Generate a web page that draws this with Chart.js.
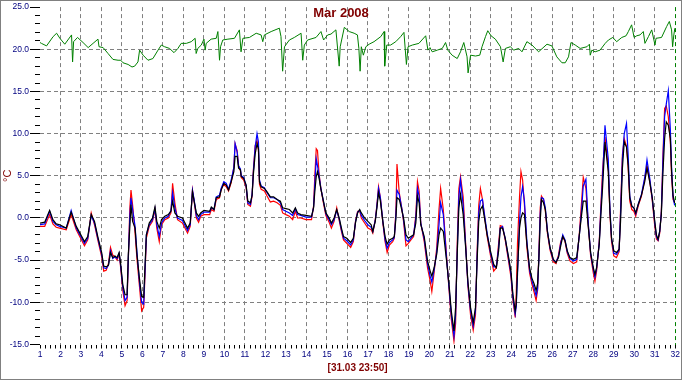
<!DOCTYPE html>
<html>
<head>
<meta charset="utf-8">
<script src="https://cdn.jsdelivr.net/npm/chart.js@4.4.1/dist/chart.umd.min.js"></script>
<style>
  html, body { margin: 0; padding: 0; background: #fff; }
  #frame { width: 682px; height: 380px; box-sizing: border-box; border: 1px solid #808080; background: #fff; }
  canvas { display: block; }
</style>
</head>
<body>
<div id="frame"><canvas id="chart" width="680" height="378"></canvas></div>
<script>
'use strict';

const monthTitle = 'Mar 2008';
const lastReading = '[31.03 23:50]';
const unitLabel = '°C';
const firstDay = 1;
const lastDay = 32;
const tempMin = -15;
const tempMax = 25;

// outside sensors: time in days of the month, one line per day group
const outsideTime = [
  1.00, 1.23, 1.47, 1.63, 1.79, 1.96, 2.28, 2.52, 2.77,
  3.17, 3.33, 3.50, 3.66, 3.82, 4.01, 4.11, 4.23, 4.34, 4.44, 4.55, 4.66, 4.76, 4.86, 4.92,
  5.04, 5.15, 5.25, 5.31, 5.38, 5.44, 5.52, 5.64, 5.73, 5.85, 5.96,
  6.06, 6.12, 6.19, 6.33, 6.49, 6.61, 6.70, 6.82, 6.93, 7.09, 7.26, 7.39, 7.47, 7.58, 7.71, 7.95,
  8.20, 8.33, 8.44, 8.52, 8.63, 8.74, 8.84, 9.00, 9.28, 9.36, 9.49, 9.60, 9.76, 9.84, 9.97,
  10.09, 10.20, 10.33, 10.46, 10.52, 10.62, 10.69, 10.78, 10.82, 10.94,
  11.06, 11.14, 11.27, 11.35, 11.41, 11.50, 11.59, 11.66, 11.71, 11.79, 11.95,
  12.08, 12.24, 12.40, 12.57, 12.73, 12.84, 13.00, 13.17, 13.33, 13.46, 13.57, 13.73, 13.98,
  14.25, 14.35, 14.41, 14.48, 14.54, 14.62, 14.70, 14.83, 14.95,
  15.11, 15.22, 15.35, 15.48, 15.60, 15.71, 15.81, 15.97, 16.16, 16.29, 16.40, 16.50, 16.60, 16.68, 16.84,
  17.00, 17.16, 17.24, 17.36, 17.44, 17.52, 17.61, 17.73, 17.84, 17.94,
  18.05, 18.21, 18.29, 18.37, 18.42, 18.53, 18.65, 18.74, 18.86, 18.97,
  19.10, 19.23, 19.34, 19.42, 19.50, 19.58, 19.75, 19.91,
  20.04, 20.12, 20.23, 20.36, 20.47, 20.55, 20.68, 20.84, 20.96,
  21.07, 21.20, 21.28, 21.36, 21.44, 21.52, 21.65, 21.77, 21.88,
  22.01, 22.14, 22.25, 22.33, 22.41, 22.49, 22.59, 22.69, 22.82, 22.98,
  23.14, 23.27, 23.38, 23.46, 23.57, 23.70, 23.87, 23.98,
  24.08, 24.19, 24.24, 24.30, 24.40, 24.47, 24.55, 24.64, 24.76, 24.89,
  25.00, 25.11, 25.21, 25.28, 25.34, 25.41, 25.47, 25.57, 25.66, 25.76, 25.89,
  26.05, 26.18, 26.30, 26.41, 26.51, 26.62, 26.73, 26.86,
  27.03, 27.19, 27.32, 27.43, 27.51, 27.64, 27.76, 27.87,
  28.00, 28.08, 28.16, 28.29, 28.37, 28.45, 28.57, 28.73, 28.81, 28.89,
  29.00, 29.13, 29.26, 29.33, 29.42, 29.51, 29.62, 29.70, 29.78, 29.88, 29.98,
  30.07, 30.19, 30.35, 30.51, 30.62, 30.75, 30.88,
  31.00, 31.08, 31.16, 31.24, 31.32, 31.40, 31.48, 31.56, 31.66, 31.76, 31.82, 31.89, 31.97
];

const blackTemp = [
  -0.6, -0.5, 0.9, -0.2, -0.7, -0.8, -1.2, 0.7, -1.0,
  -2.8, -2.2, 0.4, -0.4, -2.2, -4.1, -5.7, -5.8, -5.6, -4.1, -4.7, -4.5, -4.7, -4.1, -5.1,
  -7.9, -9.1, -9.1, -4.3, -1.2, 1.6, -0.4, -1.2, -4.3, -7.1, -9.3,
  -9.4, -5.9, -2.0, -0.6, 0.0, 1.3, -0.4, -1.2, -0.2, 0.2, 0.4, 0.8, 2.0, 0.6, 0.2, 0.0,
  -1.2, -0.6, 3.1, 2.0, 0.6, 0.2, 0.6, 0.9, 0.8, 1.3, 1.0, 2.4, 2.5, 3.3, 4.1,
  3.9, 3.3, 4.3, 5.5, 7.3, 7.3, 5.9, 5.7, 4.9, 4.7,
  3.9, 2.0, 1.8, 2.7, 5.1, 7.6, 8.8, 8.2, 4.3, 3.7, 3.5,
  3.1, 2.5, 2.5, 2.2, 2.0, 1.2, 1.1, 1.0, 0.6, 1.2, 0.6, 0.4, 0.3,
  0.2, 1.2, 3.1, 4.9, 5.5, 4.7, 3.5, 2.0, 0.6,
  0.0, -0.6, 0.0, 1.0, 0.0, -1.2, -2.2, -2.4, -2.9, -2.4, -0.5, 0.6, 1.0, 0.6, 0.0,
  -0.4, -0.8, -1.6, -0.4, 1.2, 3.0, 2.0, -0.4, -2.2, -3.1,
  -2.6, -2.4, -2.2, 0.0, 2.4, 2.2, 1.0, 0.0, -2.0, -2.4,
  -2.2, -2.0, -0.6, 2.6, 1.8, -0.8, -2.2, -5.1,
  -6.3, -6.9, -5.9, -4.3, -2.0, -1.2, -1.6, -5.1, -7.9,
  -11.0, -13.4, -10.6, -4.3, 1.2, 2.8, 0.4, -3.5, -7.5,
  -10.6, -12.4, -10.6, -5.1, -0.4, 1.0, 1.4, 0.0, -2.0, -3.9,
  -5.5, -5.9, -3.9, -1.2, -1.2, -2.4, -4.7, -6.3,
  -9.1, -11.0, -10.2, -6.3, -1.2, 0.0, 0.6, 0.4, -3.1, -5.9,
  -7.1, -7.8, -8.6, -7.8, -5.1, -0.4, 2.2, 1.8, 1.0, -1.6, -3.5,
  -4.9, -5.3, -4.7, -3.3, -2.2, -2.7, -3.9, -4.7,
  -4.9, -4.7, -2.0, 0.4, 2.0, 2.0, -1.2, -4.1,
  -5.9, -6.7, -5.9, -3.1, 0.4, 3.5, 9.0, 5.5, 0.8, -2.4,
  -3.9, -4.1, -3.7, -0.4, 5.9, 9.0, 8.4, 6.3, 2.4, 1.4, 1.2,
  0.6, 1.6, 2.7, 4.3, 5.9, 4.3, 2.4,
  -0.4, -2.0, -2.5, -1.6, 0.4, 5.5, 9.4, 11.4, 11.0, 9.4, 5.5, 2.7, 1.8
];

const redTemp = [
  -1.0, -1.0, 0.4, -0.7, -1.1, -1.2, -1.4, 0.4, -1.4,
  -3.3, -2.6, 0.6, -0.8, -2.6, -4.6, -6.3, -6.2, -5.4, -3.5, -4.4, -4.6, -5.0, -4.3, -5.5,
  -8.6, -10.4, -9.8, -5.0, 1.0, 3.3, 1.5, -1.8, -4.8, -8.0, -11.0,
  -10.6, -7.0, -2.4, -1.0, -0.4, 1.0, -1.2, -2.8, -0.8, -0.2, 0.0, 0.6, 4.1, 1.8, -0.2, -0.6,
  -1.8, -1.0, 3.3, 2.0, 0.0, -0.5, 0.2, 0.4, 0.4, 1.0, 0.8, 2.2, 2.4, 3.4, 4.0,
  3.7, 3.2, 4.2, 6.0, 8.8, 8.0, 6.2, 5.6, 4.8, 4.5,
  3.6, 1.6, 1.4, 2.6, 5.6, 8.6, 9.2, 8.0, 4.0, 3.4, 3.2,
  2.6, 1.9, 2.0, 1.8, 1.5, 0.6, 0.4, 0.2, -0.2, 0.8, 0.0, 0.0, -0.2,
  -0.2, 1.4, 5.0, 8.2, 8.0, 5.2, 3.6, 1.8, 0.3,
  -0.5, -1.2, -0.4, 1.2, -0.3, -1.6, -2.6, -3.0, -3.5, -2.8, -0.3, 0.8, 0.8, 0.0, -0.6,
  -1.2, -1.4, -1.8, -0.2, 1.5, 3.7, 2.4, -0.6, -2.8, -4.1,
  -3.2, -2.8, -2.4, 1.0, 6.4, 3.0, 1.2, -0.4, -3.3, -3.0,
  -2.6, -2.2, 0.4, 4.3, 3.2, -0.6, -2.8, -5.9,
  -7.5, -8.7, -6.5, -3.5, 1.0, 3.5, 1.0, -4.5, -8.5,
  -12.0, -14.6, -12.5, -3.0, 3.5, 4.9, 2.5, -3.0, -8.0,
  -11.5, -13.3, -11.5, -4.0, 1.5, 3.5, 2.2, 0.2, -2.2, -4.4,
  -6.3, -5.9, -3.0, -0.9, -1.0, -2.6, -5.2, -7.0,
  -9.8, -11.8, -9.0, -3.0, 2.5, 5.5, 4.5, 1.5, -3.5, -6.5,
  -7.8, -8.8, -9.8, -8.6, -4.5, 1.2, 2.6, 2.2, 0.8, -1.8, -3.8,
  -5.2, -5.4, -4.4, -2.8, -2.2, -2.8, -4.2, -5.1,
  -5.4, -5.2, -1.8, 2.0, 4.8, 3.5, -1.0, -4.5,
  -6.5, -7.5, -6.3, -2.8, 1.5, 5.5, 9.6, 6.0, 0.5, -2.8,
  -4.5, -4.7, -4.0, 1.0, 7.5, 9.4, 8.5, 6.0, 2.0, 1.0, 0.8,
  0.2, 1.4, 2.6, 4.6, 6.2, 4.5, 2.0,
  -1.0, -2.5, -2.7, -1.8, 0.8, 7.5, 13.0, 13.3, 12.0, 9.0, 5.0, 2.2, 1.8
];

const blueTemp = [
  -0.8, -0.7, 0.8, -0.4, -0.8, -1.0, -1.2, 0.9, -1.2,
  -3.0, -2.4, 0.3, -0.6, -2.4, -4.3, -5.9, -6.0, -5.6, -3.9, -4.8, -4.6, -4.8, -4.2, -5.3,
  -8.2, -9.8, -9.4, -4.8, 0.0, 2.4, 1.0, -1.0, -4.0, -7.5, -10.0,
  -10.2, -6.5, -2.0, -0.8, -0.2, 1.1, -0.8, -2.2, -0.6, 0.0, 0.2, 0.9, 3.0, 1.2, 0.0, -0.3,
  -1.5, -0.8, 3.3, 2.2, 0.3, -0.2, 0.4, 0.7, 0.7, 1.2, 1.0, 2.5, 2.7, 3.5, 4.3,
  4.1, 3.4, 4.5, 6.0, 8.8, 7.8, 6.2, 5.8, 5.0, 4.8,
  3.8, 1.8, 1.6, 2.8, 5.4, 8.4, 10.0, 9.0, 4.5, 3.8, 3.6,
  3.0, 2.4, 2.4, 2.2, 1.8, 1.0, 0.8, 0.6, 0.3, 1.1, 0.4, 0.3, 0.1,
  0.1, 1.3, 4.0, 7.0, 6.2, 5.0, 3.6, 2.0, 0.5,
  -0.2, -0.8, -0.2, 0.9, -0.1, -1.4, -2.4, -2.7, -3.2, -2.6, -0.4, 0.7, 0.9, 0.3, -0.3,
  -0.8, -1.1, -1.6, -0.3, 1.4, 3.5, 2.4, -0.4, -2.6, -3.6,
  -2.9, -2.6, -2.3, 0.5, 3.3, 2.8, 1.2, -0.2, -2.6, -2.8,
  -2.4, -2.0, 0.0, 3.5, 2.6, -0.6, -2.5, -5.4,
  -6.9, -7.6, -6.2, -4.0, -0.8, 1.8, 0.4, -4.8, -8.2,
  -11.5, -14.0, -11.5, -4.0, 2.5, 4.5, 1.5, -3.3, -7.8,
  -11.0, -12.8, -11.0, -4.6, 0.6, 2.0, 2.2, 0.4, -1.8, -4.1,
  -5.8, -5.8, -3.5, -1.2, -1.0, -2.4, -4.9, -6.6,
  -9.5, -11.4, -10.5, -6.8, -0.5, 2.5, 3.7, 2.0, -2.8, -6.2,
  -7.4, -8.3, -9.2, -8.4, -5.0, 0.5, 2.4, 2.3, 1.2, -1.5, -3.6,
  -5.0, -5.2, -4.6, -3.0, -2.0, -2.6, -4.0, -4.8,
  -5.1, -4.9, -2.0, 1.0, 3.8, 4.6, -0.8, -4.2,
  -6.1, -7.0, -6.0, -3.0, 1.0, 4.5, 11.0, 7.0, 1.2, -2.4,
  -4.2, -4.3, -3.8, 0.5, 7.0, 10.0, 11.2, 7.5, 2.6, 1.4, 1.2,
  0.5, 1.6, 2.8, 4.8, 6.9, 4.8, 2.2,
  -0.6, -2.2, -2.6, -1.6, 0.6, 7.0, 12.0, 13.5, 15.1, 10.5, 6.0, 2.5, 1.5
];

// inside sensor (green)
const greenTime = [
  1.00, 1.07, 1.32, 1.64, 1.81, 1.97, 2.21, 2.54, 2.59, 2.64,
  2.83, 3.10, 3.35, 3.59, 3.83, 3.88, 4.08, 4.32, 4.56, 4.81,
  4.94, 5.05, 5.30, 5.49, 5.62, 5.78, 5.86, 6.03, 6.27, 6.51,
  6.76, 6.92, 7.08, 7.32, 7.54, 7.73, 7.89, 8.14, 8.38, 8.57,
  8.62, 8.70, 8.87, 9.00, 9.06, 9.11, 9.35, 9.60, 9.68, 9.76,
  9.81, 9.92, 10.17, 10.49, 10.73, 10.81, 10.90, 11.22, 11.55, 11.79,
  11.87, 11.95, 12.28, 12.68, 12.76, 12.84, 12.93, 13.17, 13.41, 13.74,
  13.82, 13.90, 14.06, 14.47, 14.71, 14.84, 15.04, 15.20, 15.44, 15.60,
  15.65, 15.85, 16.09, 16.33, 16.49, 16.56, 16.62, 16.68, 16.78, 16.90,
  17.06, 17.30, 17.63, 17.79, 17.82, 17.92, 18.11, 18.36, 18.60, 18.76,
  18.88, 18.96, 19.17, 19.49, 19.82, 19.93, 20.03, 20.14, 20.39, 20.63,
  20.79, 20.90, 21.11, 21.36, 21.52, 21.68, 21.84, 21.89, 22.01, 22.25,
  22.46, 22.57, 22.74, 22.85, 23.01, 23.22, 23.47, 23.60, 23.71, 23.95,
  24.12, 24.36, 24.52, 24.76, 25.01, 25.33, 25.74, 25.98, 26.22, 26.47,
  26.63, 26.79, 26.91, 27.12, 27.36, 27.69, 27.81, 27.85, 27.93, 28.09,
  28.33, 28.58, 28.74, 28.95, 29.14, 29.39, 29.60, 29.71, 29.87, 29.99,
  30.12, 30.28, 30.44, 30.52, 30.69, 30.85, 31.01, 31.06, 31.33, 31.58,
  31.71, 31.82, 31.87, 31.93, 31.98
];

const greenTemp = [
  20.8, 20.7, 20.4, 21.5, 21.9, 21.3, 20.6, 21.7, 18.5, 20.9,
  21.4, 20.8, 20.2, 20.7, 21.2, 20.3, 20.2, 19.5, 18.8, 18.7,
  18.7, 18.4, 18.2, 17.9, 18.0, 18.5, 19.9, 19.3, 18.7, 18.9,
  19.9, 20.5, 20.3, 20.1, 19.6, 20.1, 20.7, 20.7, 20.9, 21.3,
  19.5, 20.1, 20.5, 21.2, 19.9, 20.7, 21.2, 21.3, 22.1, 18.7,
  20.3, 21.1, 21.2, 21.3, 22.3, 19.7, 21.3, 21.4, 21.9, 21.7,
  20.9, 21.7, 22.1, 22.5, 21.5, 17.4, 20.3, 21.1, 21.4, 21.9,
  18.7, 20.5, 21.1, 21.4, 22.1, 21.1, 21.7, 21.8, 22.3, 18.0,
  20.3, 22.6, 22.1, 21.9, 21.7, 20.1, 17.4, 20.3, 19.3, 20.3,
  20.6, 20.9, 21.5, 22.1, 18.0, 20.5, 20.5, 20.9, 21.5, 22.0,
  18.2, 20.3, 20.5, 20.7, 21.6, 19.9, 20.2, 19.7, 19.9, 20.1,
  20.8, 19.9, 19.3, 18.9, 19.7, 20.8, 19.1, 17.2, 19.3, 19.2,
  19.3, 20.3, 21.5, 22.2, 21.6, 21.2, 20.3, 18.5, 20.1, 20.3,
  19.9, 20.1, 19.7, 20.9, 20.5, 19.7, 20.6, 20.4, 19.1, 18.4,
  18.4, 19.1, 20.8, 20.5, 20.1, 20.3, 20.6, 19.3, 19.9, 19.7,
  19.9, 20.7, 21.1, 21.4, 20.9, 21.4, 21.6, 22.1, 22.9, 21.4,
  21.6, 21.7, 22.1, 20.7, 21.5, 22.3, 20.5, 21.3, 21.4, 22.7,
  23.3, 22.3, 20.3, 21.7, 22.5
];

const gridGray = '#808080';
const tickNavy = '#000080';
const textMaroon = '#800000';
const hidden = 'rgba(0,0,0,0)';
const sansFamily = 'Arial, "Liberation Sans", sans-serif';

function lineSeries(label, times, temps, colour, width) {
  return {
    label: label,
    data: times.map((t, i) => ({x: t, y: temps[i]})),
    borderColor: colour,
    backgroundColor: colour,
    borderWidth: width,
    pointRadius: 0,
    tension: 0,
    fill: false,
    xAxisID: 'x',
    yAxisID: 'y'
  };
}

// title drawn inside the plot area, like the original
const monthTitlePlugin = {
  id: 'monthTitle',
  afterDraw(chart) {
    const ctx = chart.ctx;
    ctx.save();
    ctx.font = 'bold 13px ' + sansFamily;
    ctx.fillStyle = textMaroon;
    ctx.textAlign = 'center';
    ctx.textBaseline = 'middle';
    ctx.fillText(monthTitle, chart.width / 2, 12);
    ctx.restore();
  }
};

const config = {
  type: 'line',
  data: {
    datasets: [
      lineSeries('black', outsideTime, blackTemp, '#000000', 1.2),
      lineSeries('blue', outsideTime, blueTemp, '#0000ff', 1.2),
      lineSeries('red', outsideTime, redTemp, '#ff0000', 1.2),
      lineSeries('inside', greenTime, greenTemp, '#008000', 1)
    ]
  },
  options: {
    responsive: false,
    animation: false,
    layout: {padding: {left: 0, top: 3.5, right: 4, bottom: 0}},
    plugins: {
      legend: {display: false},
      tooltip: {enabled: false},
      title: {display: false}
    },
    scales: {
      x: {
        type: 'linear',
        position: 'bottom',
        min: firstDay,
        max: lastDay,
        afterFit: scale => { scale.height = 34.5; },
        border: {display: false, dash: [4, 3]},
        grid: {
          color: ctx => {
            const v = ctx.tick ? ctx.tick.value : null;
            if (v === lastDay) return '#008000';
            return Number.isInteger(v) && v > firstDay ? gridGray : hidden;
          },
          tickColor: '#000000',
          tickLength: 4
        },
        ticks: {
          stepSize: 0.25,
          autoSkip: false,
          maxRotation: 0,
          padding: 1,
          color: tickNavy,
          font: {family: sansFamily, size: 8.5},
          callback: v => Number.isInteger(v) ? String(v) : ''
        },
        title: {
          display: true,
          text: lastReading,
          color: textMaroon,
          font: {family: sansFamily, size: 10, weight: 'bold'},
          padding: {top: 0, bottom: 5}
        }
      },
      y: {
        type: 'linear',
        position: 'left',
        weight: 1,
        min: tempMin,
        max: tempMax,
        afterFit: scale => { scale.width = 39; },
        border: {display: false, dash: [4, 3]},
        grid: {
          color: ctx => {
            const v = ctx.tick ? ctx.tick.value : null;
            return v === tempMin || v === tempMax ? hidden : gridGray;
          },
          tickColor: '#000000',
          tickLength: 10
        },
        ticks: {
          stepSize: 5,
          padding: 1,
          color: tickNavy,
          font: {family: sansFamily, size: 8.5},
          callback: v => v.toFixed(1)
        },
        title: {
          display: true,
          text: unitLabel,
          color: textMaroon,
          font: {family: sansFamily, size: 11},
          padding: {top: 0, bottom: 0}
        }
      },
      yMinor: {
        type: 'linear',
        position: 'left',
        weight: 0,
        min: tempMin,
        max: tempMax,
        afterFit: scale => { scale.width = 0; },
        border: {display: false},
        grid: {drawOnChartArea: false, tickColor: '#000000', tickLength: 5},
        ticks: {stepSize: 1, display: false}
      }
    }
  },
  plugins: [monthTitlePlugin]
};

new Chart(document.getElementById('chart'), config);
</script>
</body>
</html>
